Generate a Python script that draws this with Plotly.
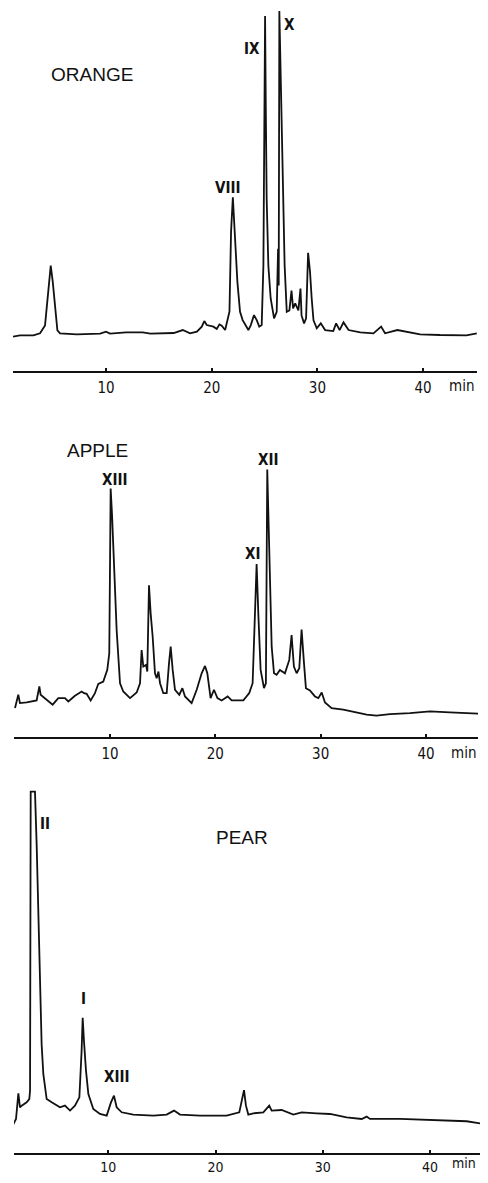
import plotly.graph_objects as go

# ---------------- data (retention time in min, detector response in arbitrary units) -------------
orange_time = [1.17, 1.86, 3.13, 3.76, 4.23, 4.55, 4.77, 4.96, 5.18, 5.40, 5.65, 7.23, 9.44, 10.0, 10.38,
               11.9, 13.47, 14.2, 16.4, 17.26, 17.95, 18.6, 19.06, 19.3, 19.53, 20.16, 20.48, 20.73, 20.95,
               21.27, 21.68, 21.83, 22.0, 22.2, 22.43, 22.68, 22.93, 23.47, 23.7, 24.0, 24.26, 24.5, 24.73,
               24.89, 24.98, 25.05, 25.11, 25.2, 25.36, 25.58, 25.9, 26.15, 26.28, 26.34, 26.4, 26.55, 26.7,
               26.9, 27.1, 27.35, 27.55, 27.7, 27.9, 28.2, 28.4, 28.5, 28.74, 28.93, 29.12, 29.3, 29.46,
               29.63, 29.94, 30.32, 30.73, 31.5, 31.77, 32.1, 32.47, 32.95, 34.06, 35.3, 36.03, 36.4,
               37.57, 38.46, 39.72, 41.6, 44.1, 45.08]
orange_signal = [-1.3, 0, 0, 2, 10, 44, 70, 54, 27, 5, 2, 1, 1.7, 3.7, 1.7,
                 3, 3, 1.7, 2.3, 5.3, 2, 3.7, 8.7, 14.3, 10.3, 8.7, 6.3, 11, 9.7,
                 5.3, 23.7, 103.7, 138.7, 103.7, 53.7, 23.7, 15.3, 5.3, 10.3, 20.3, 15.3, 8.7, 10.3,
                 70, 237, 321, 237, 137, 70, 37, 17, 23.7, 87, 50, 326, 254, 170,
                 70, 23.7, 25, 45, 27, 32, 25, 47, 20, 12, 17, 83, 64, 37,
                 15, 7, 12, 5.3, 4.3, 12, 5.3, 13, 5.3, 3, 2, 8.7, 2,
                 5.3, 3.7, 1, 0.3, 0, 2]

apple_time = [0.98, 1.29, 1.45, 2.09, 3.03, 3.29, 3.41, 3.83, 4.55, 5.09, 5.72, 6.04, 6.67, 7.31, 7.53,
              7.78, 8.16, 8.57, 8.89, 9.36, 9.74, 9.93, 10.06, 10.19, 10.38, 10.63, 10.95, 11.26, 11.9,
              12.53, 12.85, 13.0, 13.16, 13.42, 13.54, 13.7, 13.86, 14.05, 14.27, 14.43, 14.6, 14.75,
              15.06, 15.38, 15.6, 15.76, 15.95, 16.17, 16.58, 16.87, 17.12, 17.75, 18.23, 18.7, 19.02,
              19.24, 19.55, 19.87, 20.2, 20.6, 21.17, 21.55, 22.66, 23.22, 23.54, 23.73, 23.92, 24.08,
              24.3, 24.62, 24.8, 24.93, 25.12, 25.35, 25.57, 25.82, 26.13, 26.61, 27.02, 27.24, 27.46,
              27.72, 27.97, 28.19, 28.42, 28.6, 28.98, 29.46, 29.78, 30.1, 30.41, 31.04, 32.15, 33.41,
              34.37, 35.3, 36.58, 38.48, 40.38, 42.27, 44.97]
apple_signal = [5.3, 18.7, 10.3, 11, 13, 27, 18.7, 15.3, 8.7, 15.3, 15.3, 12, 17.7, 22, 20.3,
                19.7, 13, 20.3, 29.7, 32, 43.7, 60.3, 226, 200, 150, 83.7, 30.3, 22, 15.3,
                21, 30.3, 63.7, 47, 48.7, 42, 128.7, 100.3, 77, 40.3, 35.3, 42, 30.3,
                20.3, 20.3, 50.3, 67, 43.7, 23.7, 18.7, 25.3, 17, 10.3, 23.7, 40.3, 47.7,
                40.3, 15.3, 23.7, 15.3, 13, 17, 13, 13, 20.3, 30.3, 83.7, 150, 100.3,
                43.7, 25.3, 30.3, 245, 150, 67, 40.3, 38.7, 43.7, 40.3, 53.7, 78.7, 47,
                40.3, 45.3, 84.3, 50.3, 25.3, 23, 17, 15.3, 21, 11, 5.3, 3.7, 1,
                -1.3, -2.3, -0.7, 0.3, 2, 1, -0.3]

pear_time = [1.08, 1.39, 1.61, 1.76, 1.92, 2.38, 2.63, 2.70, 2.76, 3.16, 3.32, 3.47, 3.63, 3.78, 3.94,
             4.25, 4.72, 5.49, 5.96, 6.43, 6.89, 7.30, 7.51, 7.61, 7.73, 7.92, 8.14, 8.60, 9.22, 9.85,
             10.25, 10.53, 10.78, 11.25, 12.33, 14.2, 15.44, 16.13, 16.69, 18.55, 21.04, 22.22, 22.66,
             22.84, 23.06, 23.53, 24.46, 25.01, 25.24, 26.17, 27.26, 28.04, 29.44, 30.68, 32.23, 33.64,
             34.1, 34.41, 37.2, 40.32, 43.43, 44.98]
pear_signal = [-10.3, -3.7, 22, 8, 9.7, 13, 16.3, 24.7, 325.3, 325.3, 271, 204.7, 138, 71.3, 41.3,
               16.3, 13, 8, 9.7, 4.7, 9.7, 18, 64.7, 98, 74.7, 44.7, 21.3, 6.3, 1.3, -0.3,
               13, 19.7, 8, 3, 0.7, -0.3, 0.7, 4.7, 0.7, -0.3, -0.3, 3, 25.3,
               9.7, 0.7, 2, 3, 9.7, 4.7, 5.3, 0.7, 3, 2, 1.3, -2, -3.7,
               -1.3, -3.7, -3.7, -4.7, -6, -8.7]

tick_values = [10, 20, 30, 40]
tick_labels = ["10", "20", "30", "40"]
panel_names = ["ORANGE", "APPLE", "PEAR"]

# peak labels: (text, time, response)
orange_peaks = [("VIII", 21.52, 148), ("IX", 23.79, 288), ("X", 27.35, 312)]
apple_peaks = [("XIII", 10.47, 235), ("XI", 23.51, 160), ("XII", 24.97, 255)]
pear_peaks = [("II", 4.09, 293), ("I", 7.64, 117), ("XIII", 10.78, 38)]

# ---------------- figure ----------------
# the page body has an 8 px margin on every side; keep the figure inside the window
OX, OY = 8, 8
FW, FH = 480, 1167
def fx(px):
    return (px - OX) / FW
def fy(px):
    return 1 - (px - OY) / FH

LABEL_FONT = "Liberation Sans Narrow, Arial Narrow, DejaVu Sans Condensed, Liberation Sans, Arial, sans-serif"
TEXT_FONT = "Liberation Sans, Arial, DejaVu Sans, sans-serif"

fig = go.Figure()
series = [(orange_time, orange_signal), (apple_time, apple_signal), (pear_time, pear_signal)]
for i, (t, s) in enumerate(series):
    k = "" if i == 0 else str(i + 1)
    fig.add_trace(go.Scatter(x=t, y=s, mode="lines", xaxis="x" + k, yaxis="y" + k,
                             line=dict(color="#111111", width=1.8), hoverinfo="skip",
                             showlegend=False))

# panel geometry (window pixels)
panels = [
    dict(xd=[fx(13), fx(477)], xr=[1.2, 45.1], yd=[fy(373), fy(10)], yr=[-36, 327],
         fs=15, so=2),
    dict(xd=[fx(14), fx(478)], xr=[0.883, 44.94], yd=[fy(741), fy(420)], yr=[-24, 297],
         fs=15, so=2),
    dict(xd=[fx(14), fx(485)], xr=[1.203, 45.14], yd=[fy(1159), fy(790)], yr=[-38, 331],
         fs=14, so=0),
]

layout = dict(width=FW, height=FH, margin=dict(l=0, r=0, t=0, b=0),
              paper_bgcolor="white", plot_bgcolor="white", showlegend=False)
for i, p in enumerate(panels):
    k = "" if i == 0 else str(i + 1)
    layout["xaxis" + k] = dict(domain=p["xd"], range=p["xr"], anchor="y" + k,
                               showline=True, linecolor="#111111", linewidth=2,
                               showgrid=False, zeroline=False,
                               tickmode="array", tickvals=tick_values, ticktext=tick_labels,
                               ticks="inside", ticklen=3, tickwidth=1.5, tickcolor="#111111",
                               ticklabelstandoff=p["so"], ticklabeloverflow="allow",
                               tickfont=dict(family=LABEL_FONT, size=p["fs"], color="#111111"))
    layout["yaxis" + k] = dict(domain=p["yd"], range=p["yr"], anchor="x" + k, visible=False)
fig.update_layout(**layout)

annotations = []
name_pos = [(8.68, 262), (8.81, 264), (22.49, 279)]
for i, (name, (t, h)) in enumerate(zip(panel_names, name_pos)):
    k = "" if i == 0 else str(i + 1)
    annotations.append(dict(text=name, x=t, y=h, xref="x" + k, yref="y" + k, showarrow=False,
                            font=dict(family=TEXT_FONT, size=19, color="#111111")))
for i, peaks in enumerate([orange_peaks, apple_peaks, pear_peaks]):
    k = "" if i == 0 else str(i + 1)
    for txt, t, h in peaks:
        annotations.append(dict(text="<b>" + txt + "</b>", x=t, y=h, xref="x" + k, yref="y" + k,
                                showarrow=False,
                                font=dict(family=LABEL_FONT, size=15, color="#111111")))
# "min" unit labels (right edge, vertical centre in window pixels)
for xpx, ypx, fs in [(476, 388, 15), (478, 757, 15), (478, 1169, 14)]:
    annotations.append(dict(text="min", x=fx(xpx), y=fy(ypx), xref="paper", yref="paper",
                            showarrow=False, xanchor="right", yanchor="middle",
                            font=dict(family=LABEL_FONT, size=fs, color="#111111")))
fig.update_layout(annotations=annotations)

fig.write_html("out.html")
